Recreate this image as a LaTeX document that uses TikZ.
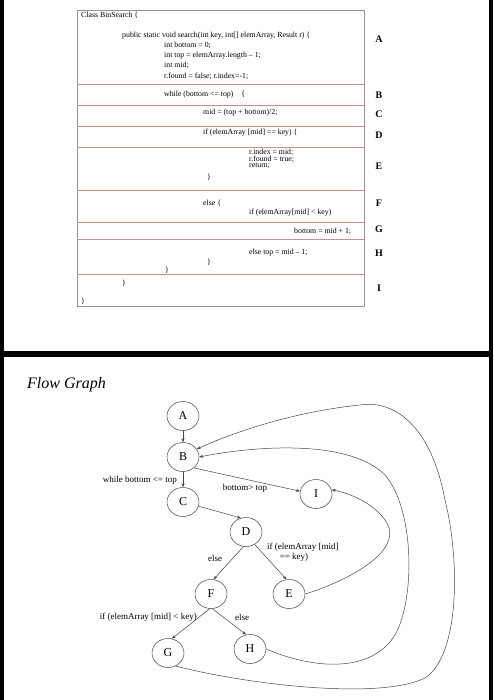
\documentclass[tikz,border=0pt]{standalone}
\usepackage{fontspec}
\setmainfont{Liberation Serif}
\usetikzlibrary{shapes.geometric,arrows.meta}
\definecolor{sepred}{RGB}{205,140,135}
\definecolor{boxgray}{RGB}{150,150,150}
\definecolor{edgegray}{RGB}{70,70,70}
\tikzset{
  code/.style={anchor=west,inner sep=0pt,font=\fontsize{7.8}{9}\selectfont},
  seclabel/.style={inner sep=0pt,font=\fontsize{10}{12}\selectfont\bfseries},
  gnode/.style={ellipse,draw=edgegray,line width=0.5pt,minimum width=32pt,minimum height=29pt,inner sep=0pt,font=\fontsize{12}{14}\selectfont},
  arr/.style={draw=edgegray,line width=0.5pt,-{Stealth[length=4pt,width=3pt]}},
  elabel/.style={inner sep=0pt,font=\fontsize{9}{11}\selectfont},
  sepline/.style={draw=sepred,line width=0.6pt}
}
\begin{document}
\begin{tikzpicture}[x=1pt,y=-1pt]
\useasboundingbox (0,0) rectangle (493,700);
% frame
\fill[black] (0,0) rectangle (493,700);
\fill[white] (4,0) rectangle (489,351);
\fill[white] (4,357) rectangle (489,700);
% code box
\draw[boxgray,line width=0.6pt] (77,10) rectangle (364,306);
\foreach \yy in {84,105.5,126.5,147,190,222,239,274}
  \draw[sepline] (77.3,\yy) -- (363.7,\yy);
% code text
\node[code] (c1) at (81,15.7) {Class BinSearch \{};
\node[code] (c2) at (122,35.7) {public static void search(int key, int[] elemArray, Result r) \{};
\node[code] (c3) at (164,45.7) {int bottom = 0;};
\node[code] (c4) at (164,56) {int top = elemArray.length – 1;};
\node[code] (c5) at (164,65.7) {int mid;};
\node[code] (c6) at (164,76) {r.found = false; r.index=-1;};
\node[code] (c7) at (164,94.5) {while (bottom <= top)\quad \{};
\node[code] (c8) at (203,113) {mid = (top + bottom)/2;};
\node[code] (c9) at (203,133) {if (elemArray [mid] == key) \{};
\node[code] (c10) at (249,152) {r.index = mid;};
\node[code] (c11) at (249,159) {r.found = true;};
\node[code] (c12) at (249,166) {return;};
\node[code] (c13) at (207,177) {\}};
\node[code] (c14) at (203,203) {else \{};
\node[code] (c15) at (249,213) {if (elemArray[mid] < key)};
\node[code] (c16) at (294,231) {bottom = mid + 1;};
\node[code] (c17) at (249,253) {else top = mid – 1;};
\node[code] (c18) at (207,262) {\}};
\node[code] (c19) at (165,270) {\}};
\node[code] (c20) at (122,283) {\}};
\node[code] (c21) at (81,301) {\}};
% section labels
\node[seclabel] (lA) at (379,39) {A};
\node[seclabel] (lB) at (379,95) {B};
\node[seclabel] (lC) at (379,114) {C};
\node[seclabel] (lD) at (379,135) {D};
\node[seclabel] (lE) at (379,166) {E};
\node[seclabel] (lF) at (379,203) {F};
\node[seclabel] (lG) at (379,229) {G};
\node[seclabel] (lH) at (379,253) {H};
\node[seclabel] (lI) at (379,288) {I};
% flow graph
\node[anchor=west,inner sep=0pt,font=\fontsize{16}{18}\selectfont\itshape] (title) at (27,385) {Flow Graph};
\node[gnode] (A) at (183,416) {A};
\node[gnode] (B) at (183,457) {B};
\node[gnode] (C) at (183,502) {C};
\node[gnode] (I) at (316,494) {I};
\node[gnode] (D) at (246,532) {D};
\node[gnode] (F) at (211,594) {F};
\node[gnode] (E) at (289,594) {E};
\node[gnode] (G) at (168,653) {G};
\node[gnode] (H) at (250,649) {H};
\draw[arr] (A.south) -- (B.north);
\draw[arr] (B.south) -- (C.north);
\draw[arr] (B.-45) -- (I.170);
\draw[arr] (C.-15) -- (D.110);
\draw[arr] (D.-100) -- (F.80);
\draw[arr] (D.-55) -- (E.100);
\draw[arr] (F.-95) -- (G.75);
\draw[arr] (F.-85) -- (H.105);
\draw[arr] (E.east) .. controls (350,580) and (400,552) .. (388,525)
  .. controls (378,505) and (350,493) .. (I.15);
\draw[arr] (H.east) .. controls (310,668) and (370,675) .. (395,635)
  .. controls (415,600) and (415,510) .. (385,475)
  .. controls (350,440) and (260,445) .. (B.east);
\draw[arr] (G.-60) .. controls (250,685) and (380,700) .. (425,678)
  .. controls (460,655) and (460,560) .. (445,500)
  .. controls (430,420) and (390,400) .. (360,405)
  .. controls (310,410) and (250,425) .. (B.30);
% edge labels
\node[elabel,anchor=east] (lw) at (177,480) {while bottom <= top};
\node[elabel] (lbt) at (245,488) {bottom> top};
\node[elabel] (le1) at (215,558) {else};
\node[elabel,anchor=west] (lif1) at (267,547) {if (elemArray [mid]};
\node[elabel] (lif2) at (294,557) {== key)};
\node[elabel,anchor=east] (lif3) at (197,617) {if (elemArray [mid] < key)};
\node[elabel] (le2) at (242,617) {else};
\end{tikzpicture}
\end{document}
